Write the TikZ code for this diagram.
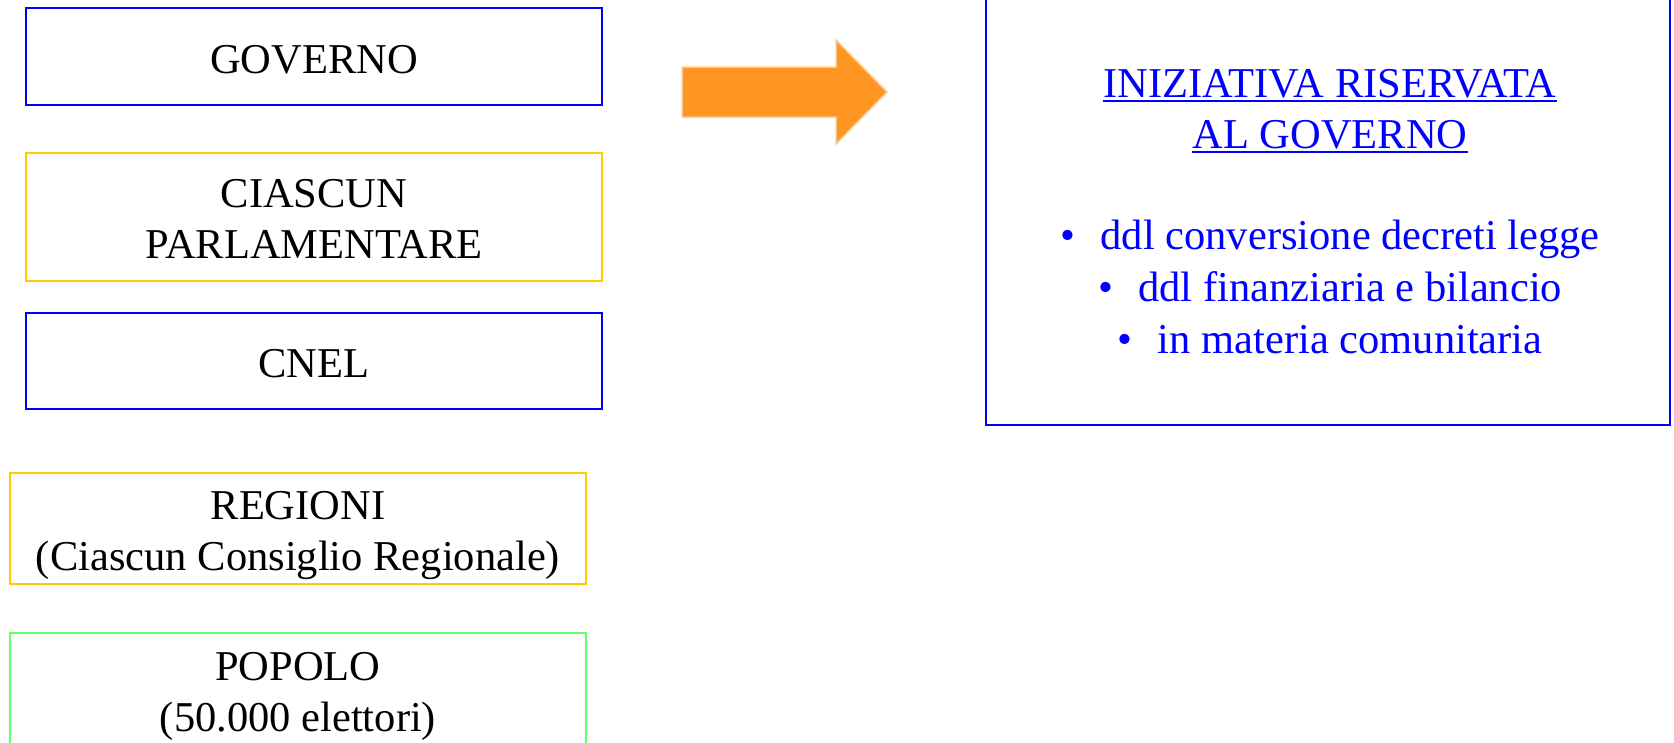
\documentclass[tikz,border=0pt]{standalone}
\usepackage{fontspec}
\setmainfont{Liberation Serif}
\definecolor{bxblue}{HTML}{0000FF}
\definecolor{bxyellow}{HTML}{FFCC00}
\definecolor{bxgreen}{HTML}{66FF66}
\definecolor{arrorange}{HTML}{FF9623}
\definecolor{arredge}{HTML}{FFCC90}
\newcommand\myul[1]{\setbox0=\hbox{#1}\rlap{\rule[-5pt]{\wd0}{2pt}}\box0}
\newcommand\mybul{\textbullet\hspace{0.6em}}
\begin{document}
\begin{tikzpicture}[x=1pt,y=-1pt,
  box/.style={draw=#1,line width=2.2pt,inner sep=0pt,outer sep=0pt,anchor=north west},
  txt/.style={anchor=base,inner sep=0pt,font=\fontsize{42.5}{51}\selectfont,text=black},
  rtxt/.style={txt,text=bxblue}]
\useasboundingbox (0,0) rectangle (1674,742);
\clip (0,0) rectangle (1674,742);
% boxes
\node[box=bxblue,minimum width=576pt,minimum height=97pt] (gov) at (26,8) {};
\node[box=bxyellow,minimum width=576pt,minimum height=128pt] (parl) at (26,153) {};
\node[box=bxblue,minimum width=576pt,minimum height=96pt] (cnel) at (26,313) {};
\node[box=bxyellow,minimum width=576pt,minimum height=111pt] (reg) at (10,473) {};
\node[box=bxgreen,minimum width=576pt,minimum height=140pt] (pop) at (10,633) {};
\node[box=bxblue,minimum width=684pt,minimum height=445pt] (ris) at (986,-20) {};
% left texts
\node[txt] (govt) at (314,73) {GOVERNO};
\node[txt] (parlt1) at (314,207) {CIASCUN};
\node[txt] (parlt2) at (314,258) {PARLAMENTARE};
\node[txt] (cnelt) at (314,377) {CNEL};
\node[txt] (regt1) at (298,519) {REGIONI};
\node[txt] (regt2) at (298,570) {(Ciascun Consiglio Regionale)};
\node[txt] (popt1) at (298,680) {POPOLO};
\node[txt] (popt2) at (298,731) {(50.000 elettori)};
% right texts
\node[rtxt] (rist1) at (1330,97) {\myul{INIZIATIVA RISERVATA}};
\node[rtxt] (rist2) at (1330,148) {\myul{AL GOVERNO}};
\node[rtxt] (b1) at (1330,249) {\mybul ddl conversione decreti legge};
\node[rtxt] (b2) at (1330,301) {\mybul ddl finanziaria e bilancio};
\node[rtxt] (b3) at (1330,353) {\mybul in materia comunitaria};
% block arrow
\filldraw[fill=arrorange,draw=arredge,line width=1.5pt,line join=miter]
  (682,67) -- (836,67) -- (836,40) -- (887,92) -- (836,144) -- (836,117) -- (682,117) -- cycle;
\end{tikzpicture}
\end{document}
